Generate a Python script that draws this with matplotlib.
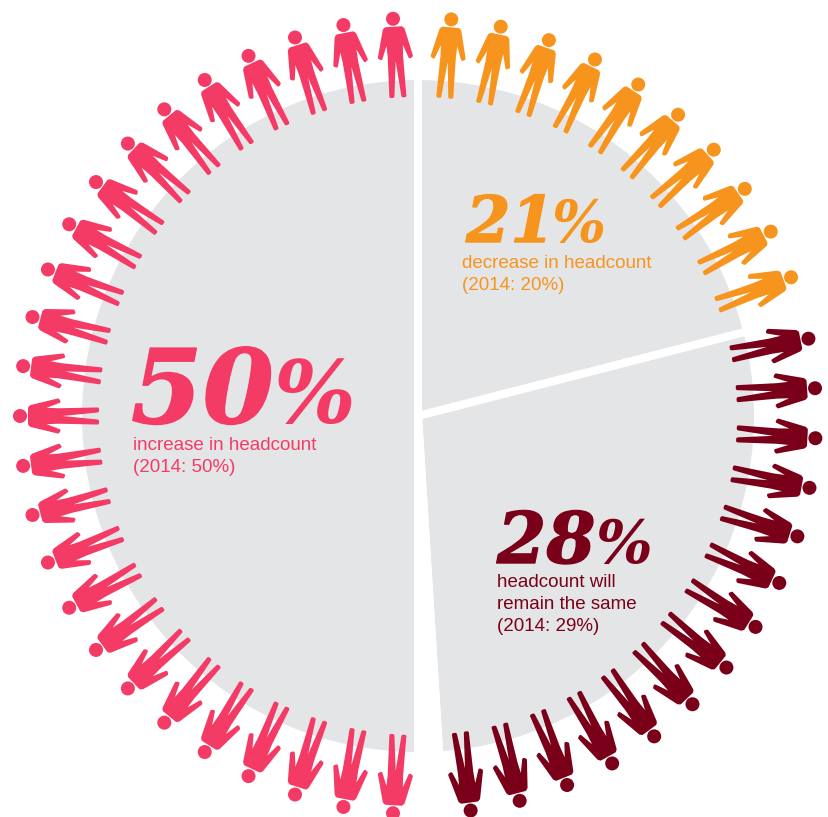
import numpy as np
import matplotlib
matplotlib.use('Agg')
import matplotlib.pyplot as plt
import matplotlib.patheffects as pe
from matplotlib.patches import Circle, Polygon

# share of respondents, clockwise from twelve o'clock (the unassigned 1% stays blank)
shares = [21, 28, 1, 50]
share_colors = ['#e4e5e7', '#e4e5e7', '#ffffff', '#e4e5e7']

# one figure stands for 2%, groups are rounded to whole people
people_counts = [10, 14, 25]
people_colors = ['#f7941e', '#7a0019', '#f43b66']
people_start = [4.8, 78.8, 183.6]
people_step = 7.2

big_numbers = ['21', '28', '50']
captions = ['decrease in headcount\n(2014: 20%)',
            'headcount will\nremain the same\n(2014: 29%)',
            'increase in headcount\n(2014: 50%)']

W, H = 829, 817
CX, CY = 418, H - 416
HEAD_DIST = 398

half_body = np.array([
    (0, 9.5), (8, 9.5), (9.5, 11), (16, 38), (14.5, 39), (7, 19), (6.2, 38),
    (7, 77.5), (5, 77.5), (0, 27)])
body = np.vstack([half_body, (half_body * [-1, 1])[-2:0:-1]])


def draw_person(ax, angle, color):
    """Draw one figure with its head outwards at a clock angle in degrees."""
    t = np.radians(angle)
    head = np.array([CX + HEAD_DIST * np.sin(t), CY + HEAD_DIST * np.cos(t)])
    u = np.array([np.cos(t), -np.sin(t)])
    v = np.array([-np.sin(t), -np.cos(t)])
    pts = head + body[:, :1] * u + body[:, 1:] * v
    ax.add_patch(Polygon(pts, closed=True, facecolor=color, edgecolor=color,
                         linewidth=2.2, joinstyle='round', zorder=3))
    ax.add_patch(Circle(head, 7, facecolor=color, edgecolor='none', zorder=3))


def draw_label(ax, x, y, number, caption, color, size, pct_x, pct_size, cap_x, cap_y):
    heavy = [pe.withStroke(linewidth=1, foreground=color)]
    ax.text(x, H - y, number, family='DejaVu Serif', style='italic', weight='bold',
            fontsize=size, color=color, ha='left', va='baseline', zorder=4,
            path_effects=heavy)
    ax.text(pct_x, H - y, '%', family='DejaVu Serif', style='italic', weight='bold',
            fontsize=pct_size, color=color, ha='left', va='baseline', zorder=4)
    ax.text(cap_x, H - cap_y, caption, family='Liberation Sans', fontsize=13.5,
            color=color, ha='left', va='top', linespacing=1.39, zorder=4)


fig = plt.figure(figsize=(W / 100, H / 100), dpi=100)
ax = fig.add_axes([0, 0, 1, 1])
ax.pie(shares, colors=share_colors, startangle=90, counterclock=False,
       center=(CX, CY), radius=340,
       wedgeprops={'edgecolor': 'white', 'linewidth': 5.8})
ax.set_xlim(0, W)
ax.set_ylim(0, H)
ax.axis('off')

for count, color, start in zip(people_counts, people_colors, people_start):
    for i in range(count):
        draw_person(ax, start + i * people_step, color)

draw_label(ax, 466, 242, big_numbers[0], captions[0], people_colors[0], 46, 552, 41, 462, 255)
draw_label(ax, 497, 563, big_numbers[1], captions[1], people_colors[1], 51, 596, 43, 497, 574)
draw_label(ax, 131, 423, big_numbers[2], captions[2], people_colors[2], 74, 274, 62, 133, 437)

fig.savefig('out.png', dpi=100)
